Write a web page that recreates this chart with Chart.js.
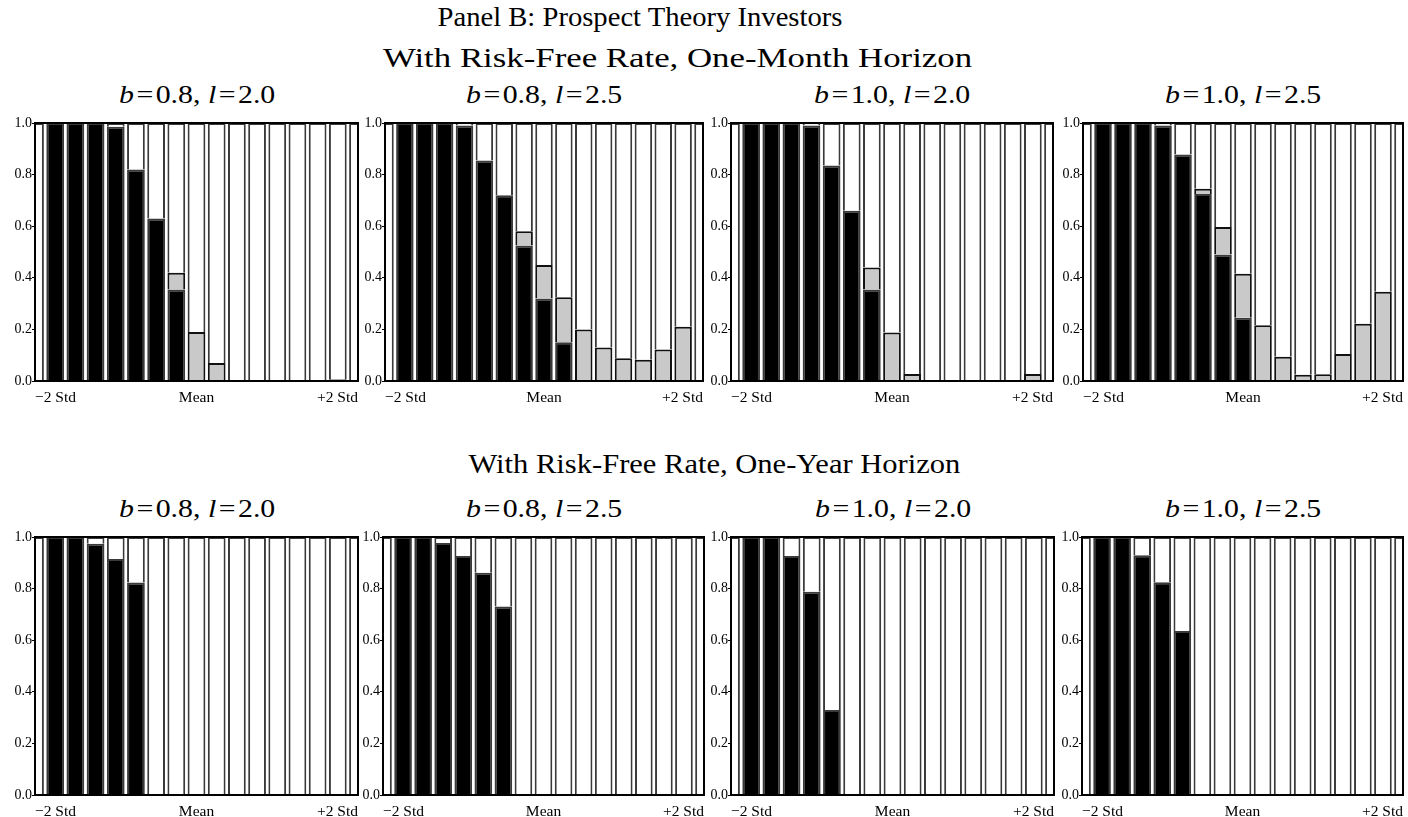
<!DOCTYPE html>
<html>
<head>
<meta charset="utf-8">
<script src="https://cdn.jsdelivr.net/npm/chart.js@4.4.0/dist/chart.umd.min.js"></script>
<style>
  html, body { margin: 0; padding: 0; background: #fff; }
  body { width: 1408px; height: 817px; position: relative; overflow: hidden;
         font-family: "Liberation Serif", "DejaVu Serif", serif; color: #000; }
  .t { position: absolute; white-space: nowrap; line-height: 1; transform-origin: center center; }
  canvas { position: absolute; }
</style>
</head>
<body>
<script>
// Wealth states along the horizontal axis, from two standard deviations below to two above the mean
const stateLabels = ['\u22122 Std', '', '', '', '', '', '', '', 'Mean', '', '', '', '', '', '', '', '+2 Std'];

// One-month horizon: dark = stock share, light = second risky share (rest is the risk-free asset)
const monthB08L20Dark  = [0, 1, 1, 1, 0.985, 0.82, 0.63, 0.355, 0, 0, 0, 0, 0, 0, 0, 0, 0];
const monthB08L20Light = [0, 0, 0, 0, 0, 0, 0, 0.065, 0.19, 0.07, 0, 0, 0, 0, 0, 0.007, 0];

const monthB08L25Dark  = [0, 1, 1, 1, 0.99, 0.855, 0.72, 0.525, 0.32, 0.15, 0, 0, 0, 0, 0, 0, 0];
const monthB08L25Light = [0, 0, 0, 0, 0, 0, 0, 0.055, 0.13, 0.175, 0.2, 0.13, 0.088, 0.082, 0.122, 0.21, 0];

const monthB10L20Dark  = [0, 1, 1, 1, 0.99, 0.835, 0.66, 0.355, 0, 0, 0, 0, 0, 0, 0, 0, 0];
const monthB10L20Light = [0, 0, 0, 0, 0, 0, 0, 0.085, 0.188, 0.027, 0, 0, 0, 0, 0, 0.027, 0];

const monthB10L25Dark  = [0, 1, 1, 1, 0.99, 0.878, 0.725, 0.49, 0.245, 0, 0, 0, 0, 0, 0, 0, 0];
const monthB10L25Light = [0, 0, 0, 0, 0, 0, 0.02, 0.107, 0.171, 0.216, 0.094, 0.024, 0.026, 0.105, 0.222, 0.346, 0];

// One-year horizon
const yearB08L20Dark  = [0, 1, 1, 0.974, 0.915, 0.824, 0, 0, 0, 0, 0, 0, 0, 0, 0, 0, 0];
const yearB08L20Light = [0, 0, 0, 0, 0, 0, 0, 0, 0, 0, 0, 0, 0, 0, 0, 0, 0];

const yearB08L25Dark  = [0, 1, 1, 0.977, 0.926, 0.861, 0.731, 0, 0, 0, 0, 0, 0, 0, 0, 0, 0];
const yearB08L25Light = [0, 0, 0, 0, 0, 0, 0, 0, 0, 0, 0, 0, 0, 0, 0, 0, 0];

const yearB10L20Dark  = [0, 1, 1, 0.926, 0.788, 0.329, 0, 0, 0, 0, 0, 0, 0, 0, 0, 0, 0];
const yearB10L20Light = [0, 0, 0, 0, 0, 0, 0, 0, 0, 0, 0, 0, 0, 0, 0, 0, 0];

const yearB10L25Dark  = [0, 1, 1, 0.929, 0.825, 0.636, 0, 0, 0, 0, 0, 0, 0, 0, 0, 0, 0];
const yearB10L25Light = [0, 0, 0, 0, 0, 0, 0, 0, 0, 0, 0, 0, 0, 0, 0, 0, 0];

// Panel titles
const panelTitles = [
  '<i>b</i>\u200A=\u200A0.8, <i>l</i>\u200A=\u200A2.0',
  '<i>b</i>\u200A=\u200A0.8, <i>l</i>\u200A=\u200A2.5',
  '<i>b</i>\u200A=\u200A1.0, <i>l</i>\u200A=\u200A2.0',
  '<i>b</i>\u200A=\u200A1.0, <i>l</i>\u200A=\u200A2.5'
];

const FONT = '"Liberation Serif", "DejaVu Serif", serif';

// Plot boxes (left, right, top, bottom) on the page
const topBoxes = [[35, 358, 123, 381], [385, 703, 123, 381], [731, 1053, 123, 381], [1083, 1403, 123, 381]];
const botBoxes = [[35, 358, 537, 795], [383, 704, 537, 795], [731, 1054, 537, 795], [1082, 1403, 537, 795]];

const YW = 36, XH = 24, PT = 10, PR = 6;

const framePlugin = {
  id: 'frame',
  afterDatasetsDraw(chart) {
    const a = chart.chartArea, c = chart.ctx;
    c.save();
    c.strokeStyle = '#000';
    c.lineWidth = 2;
    c.strokeRect(a.left, a.top, a.right - a.left, a.bottom - a.top);
    c.restore();
  }
};

function drawPanel(box, dark, light) {
  const [l, r, t, b] = box;
  const cv = document.createElement('canvas');
  const w = (r - l) + YW + PR, h = (b - t) + PT + XH;
  cv.width = w; cv.height = h;
  cv.style.left = (l - YW) + 'px';
  cv.style.top = (t - PT) + 'px';
  cv.style.width = w + 'px'; cv.style.height = h + 'px';
  document.body.appendChild(cv);

  const rest = dark.map((d, i) => Math.max(0, +(1 - d - light[i]).toFixed(4)));
  const common = { borderColor: '#3a3a3a', borderWidth: 2, clip: 0,
                   categoryPercentage: 1, barPercentage: 0.88 };

  new Chart(cv, {
    type: 'bar',
    data: {
      labels: stateLabels,
      datasets: [
        Object.assign({ data: dark,  backgroundColor: '#000' }, common),
        Object.assign({ data: light, backgroundColor: '#c9c9c9' }, common, { borderColor: '#111' }),
        Object.assign({ data: rest,  backgroundColor: '#fff' }, common)
      ]
    },
    options: {
      responsive: false,
      animation: false,
      devicePixelRatio: 1,
      layout: { padding: { top: PT, right: PR, left: 0, bottom: 0 } },
      plugins: { legend: { display: false }, tooltip: { enabled: false } },
      scales: {
        x: {
          stacked: true, offset: false,
          grid: { display: false }, border: { display: false },
          ticks: { autoSkip: false, maxRotation: 0, minRotation: 0, align: 'inner', padding: 0,
                   color: '#000', font: { family: FONT, size: 15.5 } },
          afterFit(s) { s.height = XH; }
        },
        y: {
          stacked: true, min: 0, max: 1,
          grid: { drawOnChartArea: false, tickLength: 3, color: '#000', lineWidth: 1 },
          border: { display: false },
          ticks: { stepSize: 0.2, padding: 0, color: '#000', font: { family: FONT, size: 14 },
                   callback: v => v.toFixed(1) },
          afterFit(s) { s.width = YW; }
        }
      }
    },
    plugins: [framePlugin]
  });
}

// Text lines: html, center x, center y, font size, target width
function addText(html, cx, cy, size, width) {
  const d = document.createElement('div');
  d.className = 't';
  d.innerHTML = html;
  d.style.fontSize = size + 'px';
  document.body.appendChild(d);
  const mw = d.offsetWidth, mh = d.offsetHeight;
  d.style.left = (cx - mw / 2) + 'px';
  d.style.top = (cy - mh / 2) + 'px';
  if (width) d.style.transform = 'scaleX(' + (width / mw).toFixed(4) + ')';
}

addText('Panel B: Prospect Theory Investors', 640, 17, 27, 405);
addText('With Risk-Free Rate, One-Month Horizon', 677, 58, 27, 589);
addText('With Risk-Free Rate, One-Year Horizon', 714, 464, 27, 492);

[[topBoxes, 95], [botBoxes, 509]].forEach(([boxes, y]) => {
  boxes.forEach((bx, i) => addText(panelTitles[i], (bx[0] + bx[1]) / 2, y, 26, 156));
});

drawPanel(topBoxes[0], monthB08L20Dark, monthB08L20Light);
drawPanel(topBoxes[1], monthB08L25Dark, monthB08L25Light);
drawPanel(topBoxes[2], monthB10L20Dark, monthB10L20Light);
drawPanel(topBoxes[3], monthB10L25Dark, monthB10L25Light);
drawPanel(botBoxes[0], yearB08L20Dark, yearB08L20Light);
drawPanel(botBoxes[1], yearB08L25Dark, yearB08L25Light);
drawPanel(botBoxes[2], yearB10L20Dark, yearB10L20Light);
drawPanel(botBoxes[3], yearB10L25Dark, yearB10L25Light);
</script>
</body>
</html>
